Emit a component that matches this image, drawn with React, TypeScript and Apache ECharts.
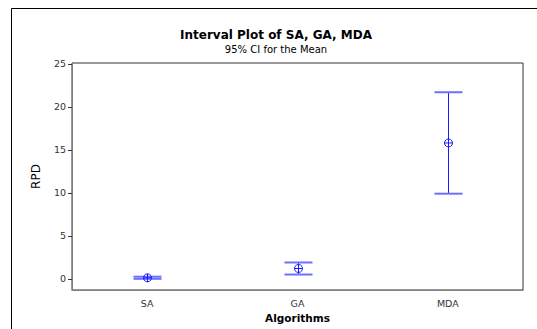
import React, { useEffect, useRef } from "react";
import * as echarts from "echarts";

const categories = ["SA", "GA", "MDA"];
const means = [0.12, 1.2, 15.8];
const lowers = [0.0, 0.5, 9.9];
const uppers = [0.25, 1.9, 21.7];
const yTicks = [0, 5, 10, 15, 20, 25];

export default function App() {
  const ref = useRef<HTMLDivElement>(null);
  useEffect(() => {
    if (!ref.current) return;
    const chart = echarts.init(ref.current, undefined, { renderer: "svg" });
    const data = categories.map((_, i) => [i, lowers[i], uppers[i], means[i]]);
    const font = "DejaVu Sans";
    chart.setOption({
      animation: false,
      backgroundColor: "#fff",
      title: {
        text: "Interval Plot of SA, GA, MDA",
        subtext: "95% CI for the Mean",
        left: 271,
        textAlign: "center",
        top: 24,
        itemGap: 3,
        textStyle: { fontFamily: font, fontSize: 12, fontWeight: "bold", color: "#000" },
        subtextStyle: { fontFamily: font, fontSize: 10, color: "#000" },
      },
      graphic: [
        {
          type: "polyline",
          shape: { points: [[11.5, 340], [11.5, 8.5], [540, 8.5]] },
          style: { stroke: "#000", lineWidth: 1, fill: "none" },
          silent: true,
        },
      ],
      grid: {
        left: 72,
        right: 14,
        top: 63,
        bottom: 39,
        show: true,
        borderColor: "#333",
        borderWidth: 1,
      },
      xAxis: {
        type: "category",
        data: categories,
        name: "Algorithms",
        nameLocation: "middle",
        nameGap: 22,
        nameTextStyle: { fontFamily: font, fontSize: 10.5, fontWeight: "bold", color: "#000" },
        axisLine: { onZero: false, lineStyle: { color: "#808080" } },
        axisTick: { alignWithLabel: true, length: 4, lineStyle: { color: "#333" } },
        axisLabel: { fontFamily: font, fontSize: 9.5, color: "#333", margin: 8 },
        splitLine: { show: false },
      },
      yAxis: {
        type: "value",
        min: -1.3,
        max: 25.1,
        name: "RPD",
        nameLocation: "middle",
        nameGap: 30,
        nameRotate: 90,
        nameTextStyle: { fontFamily: font, fontSize: 12, color: "#000" },
        axisLine: { show: true, onZero: false, lineStyle: { color: "#808080" } },
        axisTick: { show: true, length: 4, lineStyle: { color: "#333" }, customValues: yTicks },
        axisLabel: {
          fontFamily: font,
          fontSize: 9.5,
          color: "#333",
          margin: 6,
          customValues: yTicks,
        },
        splitLine: { show: false },
      },
      series: [
        {
          type: "custom",
          data,
          encode: { x: 0, y: [1, 2, 3] },
          renderItem: (params: any, api: any) => {
            const x = api.value(0);
            const lo = api.coord([x, api.value(1)]);
            const hi = api.coord([x, api.value(2)]);
            const mid = api.coord([x, api.value(3)]);
            const cx = Math.round(lo[0]) + 0.5;
            const half = 14;
            const r = 4;
            return {
              type: "group",
              children: [
                {
                  type: "line",
                  shape: { x1: cx, y1: hi[1], x2: cx, y2: lo[1] },
                  style: { stroke: "#1a1aff", lineWidth: 1 },
                },
                {
                  type: "line",
                  shape: { x1: cx - half, y1: hi[1], x2: cx + half, y2: hi[1] },
                  style: { stroke: "#6e6eff", lineWidth: 2 },
                },
                {
                  type: "line",
                  shape: { x1: cx - half, y1: lo[1], x2: cx + half, y2: lo[1] },
                  style: { stroke: "#6e6eff", lineWidth: 2 },
                },
                {
                  type: "circle",
                  shape: { cx, cy: mid[1], r },
                  style: { stroke: "#1a1aff", fill: "none", lineWidth: 1 },
                },
                {
                  type: "line",
                  shape: { x1: cx - r, y1: mid[1], x2: cx + r, y2: mid[1] },
                  style: { stroke: "#1a1aff", lineWidth: 1 },
                },
                {
                  type: "line",
                  shape: { x1: cx, y1: mid[1] - r, x2: cx, y2: mid[1] + r },
                  style: { stroke: "#1a1aff", lineWidth: 1 },
                },
              ],
            };
          },
        },
      ],
    });
    return () => chart.dispose();
  }, []);
  return (
    <div
      ref={ref}
      style={{ position: "absolute", left: 0, top: 0, width: 537, height: 329 }}
    />
  );
}
